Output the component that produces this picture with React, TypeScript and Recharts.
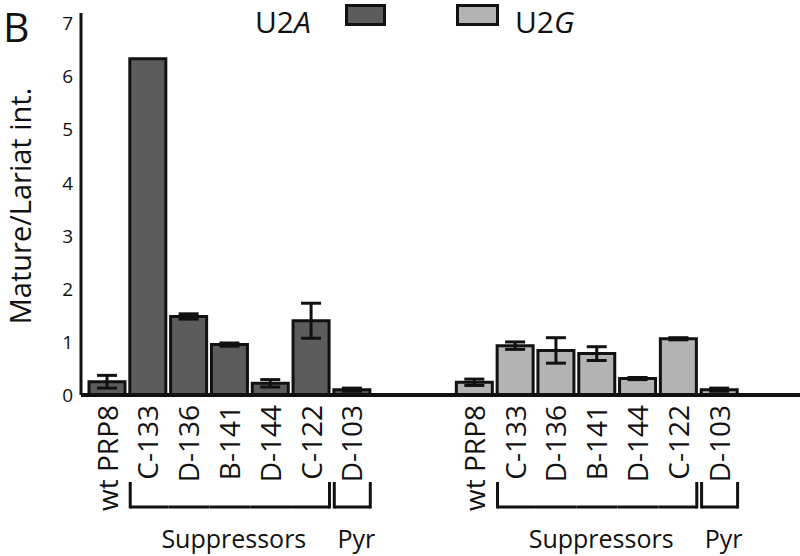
import { BarChart, Bar, XAxis, YAxis, Cell, ErrorBar } from 'recharts'

const strains = ['wt PRP8', 'C-133', 'D-136', 'B-141', 'D-144', 'C-122', 'D-103']
const groups = ['wt', 'sup', 'sup', 'sup', 'sup', 'sup', 'pyr']
const groupLabels: Record<string, { text: string; at: number }> = {
  sup: { text: 'Suppressors', at: 3 },
  pyr: { text: 'Pyr', at: 6 },
}
const u2aValues = [0.25, 6.34, 1.48, 0.95, 0.22, 1.4, 0.1]
const u2aErrors = [0.12, 0, 0.05, 0.03, 0.07, 0.33, 0.03]
const u2gValues = [0.24, 0.93, 0.84, 0.78, 0.31, 1.06, 0.1]
const u2gErrors = [0.06, 0.07, 0.24, 0.13, 0.02, 0.02, 0.03]
const yTicks = [0, 1, 2, 3, 4, 5, 6, 7]

const FONT = '"Open Sans", "DejaVu Sans", sans-serif'
const INK = '#111'
const DARK = '#5c5c5c'
const LIGHT = '#b3b3b3'

const W = 800
const H = 556
const AXIS_X = 81
const PAD_L = 6
const PAD_R = 60
const BAR = 36

const makeRows = (series: string, values: number[], errors: number[]) =>
  strains.map((name, i) => ({
    key: `${series}-${i}`,
    name,
    idx: i,
    series,
    value: values[i],
    err: errors[i],
  }))

const rows: any[] = [
  ...makeRows('U2A', u2aValues, u2aErrors),
  { key: 'gap-1' },
  { key: 'gap-2' },
  ...makeRows('U2G', u2gValues, u2gErrors),
]
const rowByKey: Record<string, any> = Object.fromEntries(rows.map((r) => [r.key, r]))
const pitch = (W - AXIS_X - PAD_L - PAD_R) / rows.length

function StrainTick({ x, y, payload }: any) {
  const row = rowByKey[payload.value]
  if (!row || row.name === undefined) return null
  const g = groups[row.idx]
  const first = groups[row.idx - 1] !== g
  const last = groups[row.idx + 1] !== g
  const edge = BAR / 2
  const bTop = y + 79
  const bBot = y + 104
  const label = groupLabels[g]
  return (
    <g>
      <text
        transform={`translate(${x},${y + 2}) rotate(-90)`}
        textAnchor="end"
        dy="0.36em"
        fontSize={28}
        fontFamily={FONT}
        fill={INK}
      >
        {row.name}
      </text>
      {g !== 'wt' && (
        <g stroke={INK} strokeWidth={3} fill="none">
          <line x1={first ? x - edge : x - pitch / 2} x2={last ? x + edge : x + pitch / 2} y1={bBot} y2={bBot} />
          {first && <line x1={x - edge} x2={x - edge} y1={bTop} y2={bBot + 1.5} />}
          {last && <line x1={x + edge} x2={x + edge} y1={bTop} y2={bBot + 1.5} />}
        </g>
      )}
      {label && label.at === row.idx && (
        <text x={x + 4} y={y + 145} textAnchor="middle" fontSize={25} fontFamily={FONT} fill={INK}>
          {label.text}
        </text>
      )}
    </g>
  )
}

function YLabel({ viewBox }: any) {
  const cx = viewBox.x + 21
  const cy = viewBox.y + viewBox.height / 2 + 2
  return (
    <text
      transform={`translate(${cx},${cy}) rotate(-90)`}
      textAnchor="middle"
      dy="0.35em"
      fontSize={29}
      fontFamily={FONT}
      fill={INK}
    >
      Mature/Lariat int.
    </text>
  )
}

export default function App() {
  return (
    <div style={{ position: 'absolute', left: 0, top: 0, width: W, height: H, background: '#fff' }}>
      <BarChart width={W} height={H} data={rows} margin={{ top: 13, right: 0, bottom: 0, left: 0 }}>
        <XAxis
          dataKey="key"
          height={161}
          interval={0}
          tickLine={false}
          axisLine={{ stroke: INK, strokeWidth: 4 }}
          padding={{ left: PAD_L, right: PAD_R }}
          tick={<StrainTick />}
        />
        <YAxis
          width={AXIS_X}
          domain={[0, 7.2]}
          ticks={yTicks}
          interval={0}
          tickLine={false}
          axisLine={{ stroke: INK, strokeWidth: 3 }}
          tick={{ fill: INK, fontSize: 19, fontFamily: FONT }}
          label={{ content: (p: any) => <YLabel viewBox={p.viewBox} /> }}
        />
        <Bar dataKey="value" barSize={BAR} stroke={INK} strokeWidth={3} isAnimationActive={false}>
          {rows.map((r) => (
            <Cell key={r.key} fill={r.series === 'U2G' ? LIGHT : DARK} />
          ))}
          <ErrorBar dataKey="err" width={10} strokeWidth={3} stroke={INK} direction="y" />
        </Bar>
      </BarChart>
      <svg width={W} height={H} style={{ position: 'absolute', left: 0, top: 0, pointerEvents: 'none' }}>
        <text x={3} y={42} fontSize={41} fontFamily={FONT} fill={INK}>B</text>
        <text x={255} y={33} fontSize={30} fontFamily={FONT} fill={INK}>
          U2<tspan fontStyle="italic">A</tspan>
        </text>
        <rect x={346.5} y={5.5} width={38} height={19} fill={DARK} stroke={INK} strokeWidth={3} />
        <rect x={457.5} y={5.5} width={40} height={19} fill={LIGHT} stroke={INK} strokeWidth={3} />
        <text x={515} y={33} fontSize={30} fontFamily={FONT} fill={INK}>
          U2<tspan fontStyle="italic">G</tspan>
        </text>
      </svg>
    </div>
  )
}
